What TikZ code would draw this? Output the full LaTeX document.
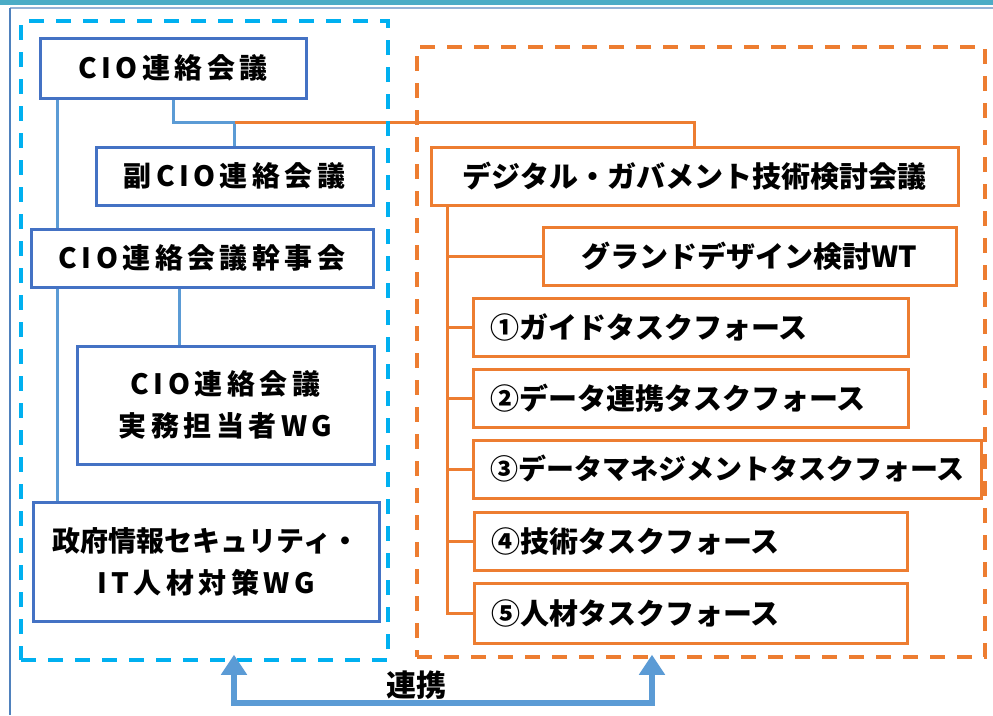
\documentclass[tikz,border=0pt]{standalone}
\usepackage{fontspec}
\newfontfamily\jp{Noto Sans CJK JP}
\usetikzlibrary{arrows.meta,backgrounds}
\definecolor{boxblue}{HTML}{4472C4}
\definecolor{lineblue}{HTML}{5B9BD5}
\definecolor{dashblue}{HTML}{00B0F0}
\definecolor{orng}{HTML}{ED7D31}
\definecolor{bandteal}{HTML}{4BACC6}
\definecolor{framelight}{HTML}{95B3D7}
\definecolor{frameblue}{HTML}{4F81BD}
\newcommand{\wide}{\addfontfeature{LetterSpace=16}}
\tikzset{
    jpfont/.style={font=\jp\bfseries\fontsize{#1}{42}\selectfont},
    jpfont/.default=29,
    bbox/.style={draw=boxblue, line width=3pt, fill=white, inner sep=0pt, jpfont=28, align=center},
    obox/.style={draw=orng, line width=3pt, fill=white, inner sep=0pt, jpfont, align=center},
    tfbox/.style={obox, align=left, inner xsep=17pt, text width=#1, minimum height=58pt},
    grp/.style={line width=3.5pt, dash pattern=on 15pt off 12pt, inner sep=0pt},
    bline/.style={draw=lineblue, line width=3pt},
    oline/.style={draw=orng, line width=3pt},
    link/.style={draw=lineblue, line width=6pt, {Triangle[width=25pt,length=20pt]}-{Triangle[width=25pt,length=20pt]}}
}
\begin{document}
\begin{tikzpicture}[x=1pt,y=-1pt]
    \useasboundingbox (0,0) rectangle (993,715);
    \fill[bandteal] (0,0) rectangle (993,5);
    \draw[framelight, line width=1.5pt] (10,8) -- (993,8);
    \draw[frameblue, line width=2pt] (10,8) -- (10,715);
    \node[grp, draw=dashblue, minimum width=367pt, minimum height=639pt] (lgrp) at (204.5,340.5) {};
    \node[grp, draw=orng, minimum width=568pt, minimum height=610pt] (rgrp) at (701,352) {};
    \node[bbox, minimum width=266pt, minimum height=60pt] (cio) at (173,68) {\wide CIO連絡会議};
    \node[bbox, minimum width=277pt, minimum height=58pt] (fukucio) at (234.5,176) {\wide 副CIO連絡会議};
    \node[bbox, minimum width=342pt, minimum height=58pt] (kanji) at (202,258) {\wide CIO連絡会議幹事会};
    \node[bbox, minimum width=297pt, minimum height=118pt] (jitsumu) at (225.5,405) {\wide CIO連絡会議\\\wide 実務担当者WG};
    \node[bbox, minimum width=346pt, minimum height=119pt] (seifu) at (206,561.5) {政府情報セキュリティ・\\\wide IT人材対策WG};
    \node[obox, minimum width=527pt, minimum height=58pt] (digi) at (694.5,176) {デジタル・ガバメント技術検討会議};
    \node[obox, minimum width=413pt, minimum height=58pt] (grand) at (749.5,256) {グランドデザイン検討WT};
    \node[tfbox=401pt] (tf1) at (690.5,327.5) {①ガイドタスクフォース};
    \node[tfbox=401pt] (tf2) at (690.5,398) {②データ連携タスクフォース};
    \node[tfbox=474pt, jpfont=28] (tf3) at (727,469) {③データマネジメントタスクフォース};
    \node[tfbox=399pt] (tf4) at (690.5,541) {④技術タスクフォース};
    \node[tfbox=399pt, minimum height=60pt] (tf5) at (690.5,613) {⑤人材タスクフォース};
    \begin{scope}[on background layer]
        \draw[bline] ([xshift=19pt]cio.south west) -- ([xshift=26pt]seifu.north west);
        \path (cio.south) ++(0,23) coordinate (jn);
        \draw[bline] (cio.south) -- (jn) -| (fukucio.north);
        \draw[oline] (jn -| fukucio.north) -| (digi.north);
        \draw[bline] ([xshift=-23pt]kanji.south) -- ([xshift=-23pt]kanji.south |- jitsumu.north);
        \coordinate (trunk) at ([xshift=18pt]digi.south west);
        \draw[oline] (trunk) |- (tf5.west);
        \foreach \n in {grand,tf1,tf2,tf3,tf4}
            \draw[oline] (trunk |- \n.west) -- (\n.west);
    \end{scope}
    \coordinate (al) at (234,703);
    \coordinate (ar) at (652,703);
    \draw[link] ([yshift=7pt]lgrp.south -| al) -- (al) -- (ar) -- ([yshift=4pt]rgrp.south -| ar);
    \node[jpfont=30] (renkei) at (416,685) {連携};
\end{tikzpicture}
\end{document}
